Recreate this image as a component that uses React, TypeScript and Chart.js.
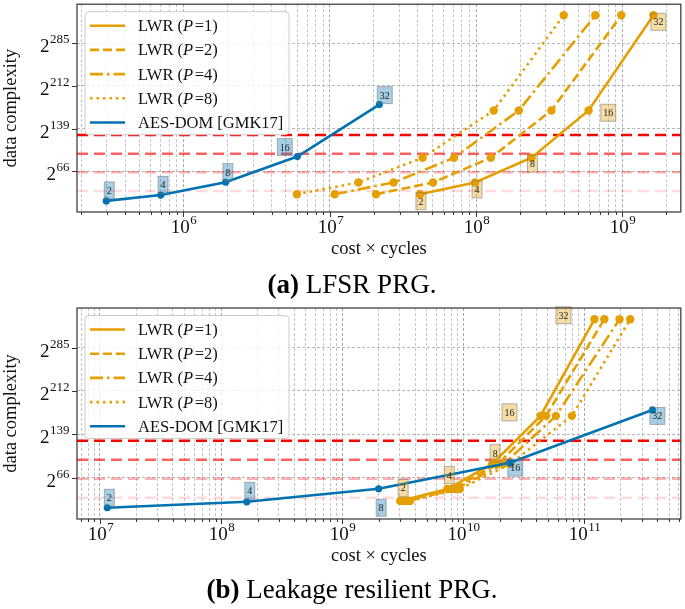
import React, { useEffect, useRef } from "react";
import { Chart, registerables } from "chart.js";
Chart.register(...registerables);

const ORANGE = "#E69F00";
const BLUE = "#0072B2";
const SERIF = "'Liberation Serif', 'DejaVu Serif', serif";

// ---------- data ----------
const ORDERS = ["2", "4", "8", "16", "32"];
const Y_TICKS = [66, 139, 212, 285];
const THRESHOLDS = [128, 96, 64, 32];
const LWR_P = ["1", "2", "4", "8"];
const AES_LABEL = "AES-DOM [GMK17]";

const AES_Y = [15, 25, 47, 91, 180];
const LWR_Y = [26.5, 46.5, 89, 170, 333];

// (a) LFSR PRG
const A_AES_X = [2.97e5, 7.0e5, 1.94e6, 6.0e6, 2.18e7];
const A_LWR1_X = [4.13e7, 9.84e7, 2.39e8, 5.87e8, 1.63e9];
const A_LWR2_X = [2.07e7, 5.08e7, 1.26e8, 3.27e8, 9.82e8];
const A_LWR4_X = [1.08e7, 2.73e7, 7.07e7, 1.96e8, 6.53e8];
const A_LWR8_X = [5.96e6, 1.57e7, 4.31e7, 1.32e8, 3.97e8];

// (b) Leakage resilient PRG
const B_AES_X = [1.15e7, 1.63e8, 2.0e9, 2.42e10, 3.64e11];
const B_LWR1_X = [3.01e9, 7.38e9, 1.73e10, 4.34e10, 1.21e11];
const B_LWR2_X = [3.25e9, 8.02e9, 1.94e10, 4.82e10, 1.46e11];
const B_LWR4_X = [3.46e9, 8.65e9, 2.16e10, 5.82e10, 1.95e11];
const B_LWR8_X = [3.64e9, 9.33e9, 2.45e10, 7.89e10, 2.39e11];

// ---------- styles ----------
const THRESHOLD_ALPHA = [1, 0.62, 0.3, 0.14];
const LWR_DASH = [[], [9, 4], [13, 4, 2.5, 4], [2.5, 4]];

const SPEC_A = {
  aesX: A_AES_X,
  lwrX: [A_LWR1_X, A_LWR2_X, A_LWR4_X, A_LWR8_X],
  xMin: 1.873e5,
  xMax: 2.506e9,
  padTop: 3,
  xAxisH: 88,
  aesOff: [[3, -10.5], [2.3, -10.2], [2.3, -10.2], [-12.5, -9.5], [5.5, -9.5]],
  lwrOff: [[1, 7], [2, 7], [1, 6], [19.7, 2.3], [5, 6.5]],
  captionBold: "(a)",
  caption: " LFSR PRG.",
  captionY: 293,
};
const SPEC_B = {
  aesX: B_AES_X,
  lwrX: [B_LWR1_X, B_LWR2_X, B_LWR4_X, B_LWR8_X],
  xMin: 6.46e6,
  xMax: 6.25e11,
  padTop: 8,
  xAxisH: 90,
  aesOff: [[2, -10], [3, -11], [2.5, 19], [5.5, 5], [5, 6]],
  lwrOff: [[3, -13], [2, -14], [3, -10.7], [-31, -3.5], [-31, -4]],
  captionBold: "(b)",
  caption: " Leakage resilient PRG.",
  captionY: 298,
};

const Y_MIN = -4;
const Y_MAX = 352;

function isMajor(v: number) {
  const e = Math.round(Math.log10(v));
  return Math.abs(v / Math.pow(10, e) - 1) < 1e-6;
}

function logTicks(min: number, max: number) {
  const out: any[] = [];
  for (let e = Math.floor(Math.log10(min)); e <= Math.ceil(Math.log10(max)); e++) {
    for (let m = 1; m <= 9; m++) {
      const v = m * Math.pow(10, e);
      if (v >= min && v <= max) out.push({ value: v });
    }
  }
  return out;
}

function drawPow(ctx: CanvasRenderingContext2D, base: string, exp: string, x: number, y: number, align: string) {
  const bf = `19px ${SERIF}`;
  const sf = `13px ${SERIF}`;
  ctx.font = bf;
  const wb = ctx.measureText(base).width;
  ctx.font = sf;
  const we = ctx.measureText(exp).width;
  const total = wb + we;
  const x0 = align === "right" ? x - total : x - total / 2;
  ctx.textAlign = "left";
  ctx.textBaseline = "alphabetic";
  ctx.font = bf;
  ctx.fillText(base, x0, y);
  ctx.font = sf;
  ctx.fillText(exp, x0 + wb + 0.5, y - 9);
}

function makePlugin(spec: any) {
  return {
    id: "custom",
    beforeDatasetsDraw(chart: any) {
      const { ctx, chartArea: a, scales } = chart;
      ctx.save();
      ctx.beginPath();
      ctx.rect(a.left, a.top, a.right - a.left, a.bottom - a.top);
      ctx.clip();
      THRESHOLDS.forEach((t, i) => {
        const y = scales.y.getPixelForValue(t);
        ctx.strokeStyle = `rgba(255,0,0,${THRESHOLD_ALPHA[i]})`;
        ctx.lineWidth = 2.5;
        ctx.setLineDash([11, 6]);
        ctx.beginPath();
        ctx.moveTo(a.left, y);
        ctx.lineTo(a.right, y);
        ctx.stroke();
      });
      ctx.restore();
    },
    afterDatasetsDraw(chart: any) {
      const { ctx, chartArea: a, scales } = chart;
      ctx.save();
      // annotation boxes
      const sets = [
        { idx: 0, off: spec.aesOff, fill: "rgba(0,114,178,0.35)" },
        { idx: 1, off: spec.lwrOff, fill: "rgba(230,159,0,0.35)" },
      ];
      sets.forEach((s) => {
        const meta = chart.getDatasetMeta(s.idx);
        meta.data.forEach((pt: any, i: number) => {
          const cx = pt.x + s.off[i][0];
          const cy = pt.y + s.off[i][1];
          const txt = ORDERS[i];
          ctx.font = `10px ${SERIF}`;
          const w = ctx.measureText(txt).width + 5;
          const h = 17;
          ctx.fillStyle = s.fill;
          ctx.fillRect(cx - w / 2, cy - h / 2, w, h);
          ctx.strokeStyle = "rgba(120,120,120,0.55)";
          ctx.lineWidth = 1;
          ctx.setLineDash([]);
          ctx.strokeRect(cx - w / 2, cy - h / 2, w, h);
          ctx.fillStyle = "#222";
          ctx.textAlign = "center";
          ctx.textBaseline = "alphabetic";
          ctx.fillText(txt, cx, cy + 3.5);
        });
      });

      // frame
      ctx.setLineDash([]);
      ctx.strokeStyle = "#333";
      ctx.lineWidth = 1.2;
      ctx.strokeRect(a.left, a.top, a.right - a.left, a.bottom - a.top);

      // tick marks + labels
      ctx.fillStyle = "#111";
      ctx.strokeStyle = "#333";
      ctx.lineWidth = 1;
      scales.x.ticks.forEach((t: any) => {
        const x = Math.round(scales.x.getPixelForValue(t.value)) + 0.5;
        const major = isMajor(t.value);
        ctx.beginPath();
        ctx.moveTo(x, a.bottom);
        ctx.lineTo(x, a.bottom + (major ? 5 : 3));
        ctx.stroke();
        if (major) {
          drawPow(ctx, "10", String(Math.round(Math.log10(t.value))), x, a.bottom + 21, "center");
        }
      });
      Y_TICKS.forEach((v) => {
        const y = Math.round(scales.y.getPixelForValue(v)) + 0.5;
        ctx.beginPath();
        ctx.moveTo(a.left - 5, y);
        ctx.lineTo(a.left, y);
        ctx.stroke();
        drawPow(ctx, "2", String(v), a.left - 8, y + 8, "right");
      });

      // axis titles
      ctx.fillStyle = "#111";
      ctx.font = `18.5px ${SERIF}`;
      ctx.textAlign = "center";
      ctx.textBaseline = "alphabetic";
      ctx.fillText("cost \u00d7 cycles", (a.left + a.right) / 2, a.bottom + 42);
      ctx.save();
      ctx.translate(16, (a.top + a.bottom) / 2);
      ctx.rotate(-Math.PI / 2);
      ctx.fillText("data complexity", 0, 0);
      ctx.restore();

      // legend
      const lx = a.left + 8;
      const ly = a.top + 7.5;
      const lw = 204;
      const lh = 123;
      ctx.beginPath();
      ctx.roundRect(lx, ly, lw, lh, 4);
      ctx.fillStyle = "rgba(255,255,255,0.8)";
      ctx.fill();
      ctx.strokeStyle = "#cccccc";
      ctx.lineWidth = 1;
      ctx.stroke();
      const lf = 16.5;
      for (let i = 0; i < 5; i++) {
        const y = a.top + 21.5 + i * 24.2;
        const isAes = i === 4;
        ctx.strokeStyle = isAes ? BLUE : ORANGE;
        ctx.lineWidth = 2.6;
        ctx.setLineDash(isAes ? [] : LWR_DASH[i]);
        ctx.beginPath();
        ctx.moveTo(lx + 5, y);
        ctx.lineTo(lx + 40, y);
        ctx.stroke();
        ctx.setLineDash([]);
        ctx.fillStyle = "#111";
        ctx.textAlign = "left";
        let tx = lx + 53;
        const by = y + 5.5;
        if (isAes) {
          ctx.font = `${lf}px ${SERIF}`;
          ctx.fillText(AES_LABEL, tx, by);
        } else {
          ctx.font = `${lf}px ${SERIF}`;
          ctx.fillText("LWR (", tx, by);
          tx += ctx.measureText("LWR (").width;
          ctx.font = `italic ${lf}px ${SERIF}`;
          ctx.fillText("P", tx, by);
          tx += ctx.measureText("P").width + 1.5;
          ctx.font = `${lf}px ${SERIF}`;
          ctx.fillText("=" + LWR_P[i] + ")", tx, by);
        }
      }

      // caption
      ctx.fillStyle = "#000";
      ctx.font = `bold 27px ${SERIF}`;
      const wb = ctx.measureText(spec.captionBold).width;
      ctx.font = `27px ${SERIF}`;
      const wr = ctx.measureText(spec.caption).width;
      const cx0 = 352 - (wb + wr) / 2;
      ctx.textAlign = "left";
      ctx.font = `bold 27px ${SERIF}`;
      ctx.fillText(spec.captionBold, cx0, spec.captionY);
      ctx.font = `27px ${SERIF}`;
      ctx.fillText(spec.caption, cx0 + wb, spec.captionY);
      ctx.restore();
    },
  };
}

function zip(xs: number[], ys: number[]) {
  return xs.map((x, i) => ({ x, y: ys[i] }));
}

function buildConfig(spec: any): any {
  const datasets: any[] = [
    {
      label: AES_LABEL,
      data: zip(spec.aesX, AES_Y),
      borderColor: BLUE,
      backgroundColor: BLUE,
      borderWidth: 2.6,
      pointRadius: 3.6,
      pointBorderWidth: 0,
      showLine: true,
    },
  ];
  spec.lwrX.forEach((xs: number[], i: number) => {
    datasets.push({
      label: "LWR (P=" + LWR_P[i] + ")",
      data: zip(xs, LWR_Y),
      borderColor: ORANGE,
      backgroundColor: ORANGE,
      borderWidth: 2.6,
      borderDash: LWR_DASH[i],
      pointRadius: 4.2,
      pointBorderWidth: 0,
      showLine: true,
    });
  });
  return {
    type: "scatter",
    data: { datasets },
    options: {
      animation: false,
      responsive: false,
      maintainAspectRatio: false,
      events: [],
      layout: { padding: { top: spec.padTop, right: 2, left: 0, bottom: 0 } },
      plugins: { legend: { display: false }, tooltip: { enabled: false } },
      scales: {
        x: {
          type: "logarithmic",
          min: spec.xMin,
          max: spec.xMax,
          afterBuildTicks: (s: any) => {
            s.ticks = logTicks(spec.xMin, spec.xMax);
          },
          afterFit: (s: any) => {
            s.height = spec.xAxisH;
          },
          ticks: { display: false },
          grid: {
            color: (c: any) => (c.tick && isMajor(c.tick.value) ? "#a8a8a8" : "#c6c6c6"),
            lineWidth: 1,
            drawTicks: false,
          },
          border: { display: false, dash: [3, 2] },
        },
        y: {
          type: "linear",
          min: Y_MIN,
          max: Y_MAX,
          afterBuildTicks: (s: any) => {
            s.ticks = Y_TICKS.map((v) => ({ value: v }));
          },
          afterFit: (s: any) => {
            s.width = 77;
          },
          ticks: { display: false },
          grid: { color: "#b8b8b8", lineWidth: 1, drawTicks: false },
          border: { display: false, dash: [3, 2] },
        },
      },
    },
    plugins: [makePlugin(spec)],
  };
}

function Panel({ spec, top, height }: any) {
  const ref = useRef<HTMLCanvasElement>(null);
  useEffect(() => {
    const chart = new Chart(ref.current as HTMLCanvasElement, buildConfig(spec));
    return () => chart.destroy();
  }, []);
  return (
    <canvas
      ref={ref}
      width={685}
      height={height}
      style={{ position: "absolute", left: 0, top, width: 685, height }}
    />
  );
}

export default function App() {
  return (
    <div style={{ position: "absolute", left: 0, top: 0, width: 685, height: 609, background: "#fff" }}>
      <Panel spec={SPEC_A} top={0} height={300} />
      <Panel spec={SPEC_B} top={300} height={309} />
    </div>
  );
}
